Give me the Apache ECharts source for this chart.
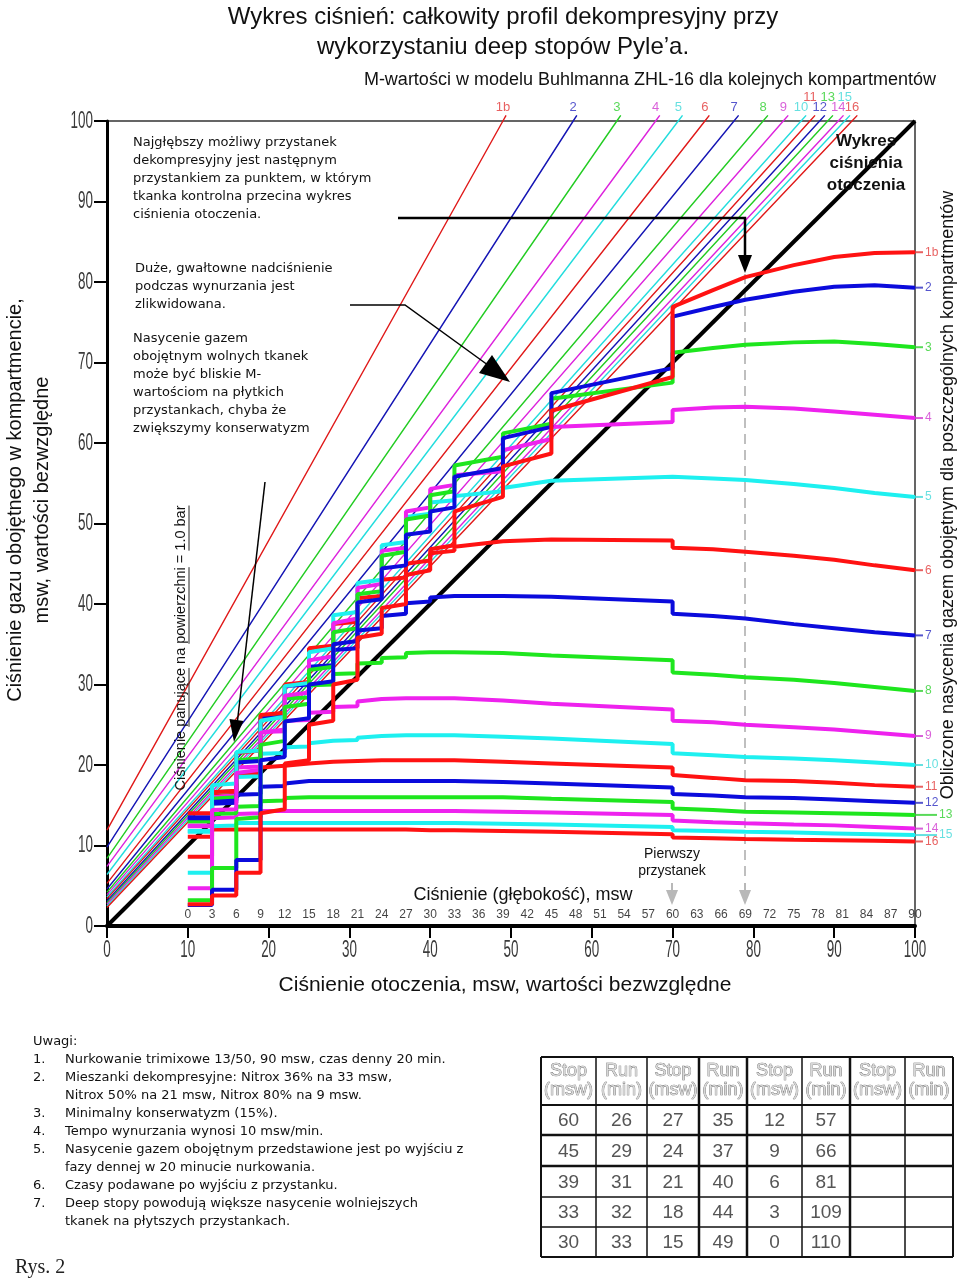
<!DOCTYPE html>
<html><head><meta charset="utf-8">
<script src="https://cdn.jsdelivr.net/npm/echarts@6/dist/echarts.min.js"></script>
<style>html,body{margin:0;padding:0;background:#fff}#c{width:960px;height:1279px}</style>
</head><body><div id="c"></div>
<script>
const SANS = "'Liberation Sans',Arial,sans-serif";
const VERD = "'DejaVu Sans',Verdana,sans-serif";

// ---- data ----
const xTicks = [0,10,20,30,40,50,60,70,80,90,100];
const yTicks = [0,10,20,30,40,50,60,70,80,90,100];
const depthTicks = [0,3,6,9,12,15,18,21,24,27,30,33,36,39,42,45,48,51,54,57,60,63,66,69,72,75,78,81,84,87,90];
const compLabels = ['1b','2','3','4','5','6','7','8','9','10','11','12','13','14','15','16'];
// M-value lines: value at ambient 0, and ambient pressure where the line reaches 100
const mIntercept = [11.9, 9.8, 8.4, 7.4, 6.4, 5.3, 4.6, 4.2, 3.9, 3.6, 3.4, 3.1, 2.9, 2.7, 2.5, 2.3];
const mTopX = [49.0, 57.7, 63.1, 67.9, 70.7, 74.0, 77.6, 81.2, 83.7, 85.9, 87.0, 88.2, 89.2, 90.5, 91.3, 92.2];
// ambient pressure of the path points: bottom phase, then every stop (arrival, departure)
const pathBottomX = [100, 95, 90, 85, 79, 75];
const stopX = [70, 55, 49, 43, 40, 37, 34, 31, 28, 25, 22, 19, 16, 13, 10];
// tissue inert gas pressure along the path (6 bottom values, then arrival/departure at each stop)
const t1b = [83.7,83.6,83.1,82.1,80.6,79.0,
  76.9,68.2, 64.0,58.7, 57.1,53.3, 51.5,47.3, 46.8,44.2, 43.6,40.0, 39.5,36.3, 35.8,30.6,
  30.0,25.5, 25.0,20.6, 20.2,14.5, 14.0,6.6, 6.6,3.8, 3.8,2.7, 2.7,2.7];
const t2 = [79.3,79.6,79.4,78.8,77.8,76.9,
  75.7,69.3, 66.2,62.0, 60.6,56.9, 55.8,52.0, 51.5,49.0, 48.6,44.8, 44.4,40.6, 40.2,35.4,
  35.0,30.4, 30.0,25.8, 25.4,21.0, 20.6,8.2, 8.2,4.5, 4.5,2.6, 2.6,2.6];
const t3 = [71.9,72.3,72.6,72.5,72.2,71.8,
  71.2,67.5, 65.5,62.4, 61.2,58.3, 57.2,54.0, 53.5,51.0, 50.5,46.5, 46.0,41.6, 41.2,37.0,
  36.5,32.2, 31.8,27.6, 27.2,23.0, 22.5,13.5, 13.3,7.2, 7.2,3.2, 3.2,3.2];
const t4 = [63.1,63.5,63.9,64.3,64.5,64.4,
  64.1,62.6, 62.0,60.5, 59.1,56.5, 56.0,54.8, 54.3,52.0, 51.5,47.0, 46.6,42.5, 42.0,38.2,
  37.6,33.5, 33.0,29.0, 28.6,24.4, 24.0,19.4, 19.0,14.5, 14.4,4.7, 4.7,4.7];
const t5 = [53.3,53.8,54.4,54.9,55.4,55.6,
  55.8,55.8, 55.3,55.1, 54.4,54.0, 53.4,52.9, 52.6,51.2, 50.8,47.7, 47.3,43.0, 42.6,39.0,
  38.6,34.5, 34.0,30.2, 29.8,26.0, 25.5,21.8, 21.6,17.7, 17.5,6.6, 6.6,6.6];
const t6 = [44.2,44.8,45.5,46.0,46.5,46.8,
  47.0,47.9, 48.0,48.0, 47.8,47.6, 47.1,46.6, 46.3,45.4, 45.0,43.3, 43.0,41.0, 40.7,37.8,
  37.5,34.8, 34.5,30.3, 30.0,26.5, 26.2,21.8, 21.5,16.8, 16.6,8.6, 8.6,8.6];
const t7 = [36.1,36.5,37.0,37.5,38.2,38.5,
  38.8,40.3, 40.9,41.0, 41.0,41.0, 41.0,40.9, 40.8,40.3, 40.1,38.8, 38.5,37.0, 36.7,34.5,
  34.3,32.4, 32.2,30.0, 29.8,26.0, 25.8,20.5, 20.3,15.6, 15.4,13.4, 13.4,13.4];
const t8 = [29.2,29.7,30.2,30.6,30.9,31.2,
  31.5,33.0, 33.6,33.8, 33.9,34.0, 34.0,34.0, 34.0,33.9, 33.9,33.4, 33.3,32.7, 32.6,31.4,
  31.3,30.0, 29.9,28.4, 28.3,26.2, 26.1,20.8, 20.6,16.0, 15.8,13.0, 13.0,13.0];
const t9 = [23.6,24.0,24.4,24.7,25.0,25.3,
  25.5,26.9, 27.6,27.8, 28.0,28.1, 28.3,28.3, 28.3,28.3, 28.3,28.2, 28.2,28.0, 27.9,27.3,
  27.2,26.6, 26.5,25.6, 25.5,24.2, 24.1,19.8, 19.7,16.2, 16.0,12.5, 12.5,12.5];
const t10 = [20.0,20.3,20.6,20.8,21.0,21.2,
  21.45,22.6, 23.3,23.4, 23.5,23.6, 23.7,23.7, 23.7,23.7, 23.7,23.7, 23.6,23.5, 23.4,23.1,
  23.0,22.8, 22.7,22.3, 22.2,21.5, 21.4,18.6, 18.5,16.8, 16.6,11.8, 11.8,11.8];
const t11 = [17.3,17.5,17.8,18.0,18.1,18.4,
  18.75,19.7, 20.2,20.3, 20.4,20.5, 20.6,20.6, 20.6,20.6, 20.6,20.6, 20.6,20.5, 20.5,20.4,
  20.4,20.3, 20.2,20.0, 19.9,19.8, 19.7,19.0, 18.9,16.6, 16.5,14.0, 14.0,14.0];
const t12 = [15.3,15.5,15.7,15.9,16.0,16.2,
  16.4,17.2, 17.7,17.8, 17.9,17.9, 18.0,18.0, 18.0,18.0, 18.0,18.0, 18.0,18.0, 18.0,18.0,
  18.0,18.0, 18.0,17.8, 17.7,17.4, 17.3,16.4, 16.3,15.3, 15.2,13.5, 13.5,13.5];
const t13 = [13.8,13.9,14.0,14.1,14.2,14.4,
  14.6,15.4, 15.8,15.9, 16.0,16.0, 16.0,16.0, 16.0,16.0, 16.0,16.0, 16.0,16.0, 16.0,16.0,
  16.0,16.0, 16.0,16.0, 15.9,15.6, 15.5,14.9, 14.8,14.0, 13.9,13.0, 13.0,13.0];
const t14 = [12.1,12.3,12.5,12.6,12.75,12.9,
  13.1,13.8, 14.1,14.2, 14.2,14.3, 14.3,14.3, 14.3,14.3, 14.3,14.3, 14.3,14.3, 14.3,14.3,
  14.3,14.3, 14.3,14.3, 14.3,14.3, 14.3,14.0, 13.9,13.5, 13.4,12.4, 12.4,12.4];
const t15 = [11.3,11.4,11.5,11.6,11.7,11.8,
  11.9,12.3, 12.6,12.6, 12.7,12.7, 12.8,12.8, 12.8,12.8, 12.8,12.8, 12.8,12.8, 12.8,12.8,
  12.8,12.8, 12.8,12.8, 12.8,12.8, 12.8,12.8, 12.8,12.5, 12.4,11.7, 11.7,11.7];
const t16 = [10.5,10.6,10.65,10.7,10.8,10.9,
  11.0,11.4, 11.7,11.7, 11.8,11.8, 11.9,11.9, 11.9,12.0, 12.0,12.0, 12.0,12.0, 12.0,12.0,
  12.0,12.0, 12.0,12.0, 12.0,12.0, 12.0,12.0, 12.0,12.0, 12.0,11.1, 11.1,11.1];
const tissues = [t1b,t2,t3,t4,t5,t6,t7,t8,t9,t10,t11,t12,t13,t14,t15,t16];
// table
const tabStop1 = [60,45,39,33,30], tabRun1 = [26,29,31,32,33];
const tabStop2 = [27,24,21,18,15], tabRun2 = [35,37,40,44,49];
const tabStop3 = [12,9,6,3,0],     tabRun3 = [57,66,81,109,110];

// ---- styles ----
const thickCol = ['#ff1212','#0b0bdc','#1ee61e','#ee22ee','#1ef0f0'];
const thinCol  = ['#e01818','#1414b4','#22cc22','#dd22dd','#22dddd'];
const labCol   = ['#e23a3a','#2a2ac0','#30d030','#d03ad0','#40d8d8'];

const pathX = pathBottomX.slice();
stopX.forEach(x => { pathX.push(x, x); });

const series = [];
compLabels.forEach((lab, i) => {
  const y0 = mIntercept[i], xt = mTopX[i];
  const slope = (100 - y0) / xt;
  const ext = 0.7;
  series.push({
    type: 'line', silent: true, symbol: 'none', clip: false, z: 3, animation: false,
    data: [[0, y0], [xt, 100], [xt + ext / slope, 100 + ext]],
    lineStyle: { width: 1.4, color: thinCol[i % 5] }
  });
});
series.push({
  type: 'scatter', symbolSize: 0, silent: true, z: 6, animation: false,
  data: mTopX.map((x, i) => ({
    value: [x, 100],
    label: {
      show: true, formatter: compLabels[i], position: 'top',
      distance: ([10, 12, 14].includes(i) ? 17 : 7),
      color: labCol[i % 5], fontSize: 13, fontFamily: SANS
    }
  }))
});
series.push({
  type: 'line', silent: true, symbol: 'none', z: 4, animation: false,
  data: [[0, 0], [100, 100]],
  lineStyle: { width: 4, color: '#000' }
});
for (let i = tissues.length - 1; i >= 0; i--) {
  series.push({
    type: 'line', silent: true, symbol: 'none', z: 5 + (16 - i) * 0.01, animation: false,
    data: pathX.map((x, j) => [x, tissues[i][Math.min(j, tissues[i].length - 1)]]),
    lineStyle: { width: 4, color: thickCol[i % 5] }
  });
}
// right-hand compartment labels (13 and 15 pushed further right, as in the figure)
series.push({
  type: 'scatter', silent: true, z: 6, animation: false, clip: false,
  symbol: 'rect',
  labelLayout: { hideOverlap: false },
  data: tissues.map((t, i) => {
    const far = (i === 12 || i === 14);
    const len = far ? 22 : 8;
    return {
      value: [100, t[0]],
      symbolSize: [len, 2], symbolOffset: [len / 2, 0],
      itemStyle: { color: labCol[i % 5] },
      label: { show: true, formatter: compLabels[i], position: 'right', distance: 2,
               color: labCol[i % 5], fontSize: 12, fontFamily: SANS }
    };
  })
});
const DEPTH_Y = 1.37;
series.push({
  type: 'scatter', symbolSize: 0, silent: true, z: 6, animation: false,
  data: depthTicks.map(d => ({ value: [d + 10, DEPTH_Y],
    label: { show: true, formatter: String(d), position: 'inside', color: '#111',
             fontSize: 12, fontFamily: SANS } }))
});

const chart = echarts.init(document.getElementById('c'), null, { renderer: 'canvas', width: 960, height: 1279 });
chart.setOption({
  animation: false,
  backgroundColor: '#fff',
  grid: { left: 107, right: 45, top: 121, bottom: 353, show: true, borderColor: '#333', borderWidth: 1.5, containLabel: false, outerBoundsMode: 'none' },
  xAxis: { type: 'value', min: 0, max: 100, interval: 10,
    axisLine: { onZero: false, lineStyle: { color: '#000', width: 4 } },
    axisTick: { show: true, length: 12, lineStyle: { width: 2, color: '#000' } },
    axisLabel: { show: false },
    splitLine: { show: false } },
  yAxis: { type: 'value', min: 0, max: 100, interval: 10,
    axisLine: { show: true, onZero: false, lineStyle: { color: '#000', width: 3 } },
    axisTick: { show: true, length: 13, lineStyle: { width: 2, color: '#000' } },
    axisLabel: { show: false },
    splitLine: { show: false } },
  series: series
});

// ---- annotations ----
const g = [];
function txt(x, y, text, o) {
  const el = { type: 'text', x: x, y: y, z: 50, silent: true,
    style: Object.assign({ text: text, fill: '#111', font: '13px ' + VERD, align: 'left', verticalAlign: 'top' }, (o && o.style) || {}) };
  if (o && o.rotation !== undefined) el.rotation = o.rotation;
  if (o && o.scaleX !== undefined) el.scaleX = o.scaleX;
  g.push(el);
}
// condensed tick labels placed through the axes' scales
const TICK_FONT = '24px ' + SANS;
xTicks.forEach(v => {
  const p = chart.convertToPixel({ gridIndex: 0 }, [v, 0]);
  txt(p[0], p[1] + 24, String(v), { scaleX: 0.56, style: { font: TICK_FONT, align: 'center', verticalAlign: 'middle', fill: '#3a3a3a' } });
});
yTicks.forEach(v => {
  const p = chart.convertToPixel({ gridIndex: 0 }, [0, v]);
  txt(p[0] - 14, p[1], String(v), { scaleX: 0.56, style: { font: TICK_FONT, align: 'right', verticalAlign: 'middle', fill: '#3a3a3a' } });
});
// titles
txt(503, 17, 'Wykres ciśnień: całkowity profil dekompresyjny przy', { style: { font: '24px ' + SANS, align: 'center', verticalAlign: 'middle' } });
txt(503, 47, 'wykorzystaniu deep stopów Pyle’a.', { style: { font: '24px ' + SANS, align: 'center', verticalAlign: 'middle' } });
txt(650, 80, 'M-wartości w modelu Buhlmanna ZHL-16 dla kolejnych kompartmentów', { style: { font: '18px ' + SANS, align: 'center', verticalAlign: 'middle' } });
txt(15, 500, 'Ciśnienie gazu obojętnego w kompartmencie,', { rotation: Math.PI / 2, style: { font: '20px ' + SANS, align: 'center', verticalAlign: 'middle' } });
txt(42, 500, 'msw, wartości bezwzględne', { rotation: Math.PI / 2, style: { font: '20px ' + SANS, align: 'center', verticalAlign: 'middle' } });
txt(948, 495, 'Obliczone nasycenia gazem obojętnym dla poszczególnych kompartmentów', { rotation: Math.PI / 2, style: { font: '18px ' + SANS, align: 'center', verticalAlign: 'middle' } });
txt(505, 985, 'Ciśnienie otoczenia, msw, wartości bezwzględne', { style: { font: '21px ' + SANS, align: 'center', verticalAlign: 'middle' } });
txt(523, 895, 'Ciśnienie (głębokość), msw', { style: { font: '18px ' + SANS, align: 'center', verticalAlign: 'middle' } });
// vertical note with underlined words
const vFont = '14.5px ' + SANS;
const vText = 'Ciśnienie panujące na powierzchni = 1.0 bar';
txt(181, 648, vText, { rotation: Math.PI / 2, style: { font: vFont, align: 'center', verticalAlign: 'middle' } });
(function () {
  const ctx = document.createElement('canvas').getContext('2d');
  ctx.font = vFont;
  const W = ctx.measureText(vText).width;
  const start = 648 + W / 2;
  ['panujące', 'powierzchni', '1.0 bar'].forEach(w => {
    const i = vText.indexOf(w);
    const a = ctx.measureText(vText.slice(0, i)).width;
    const b = ctx.measureText(vText.slice(0, i + w.length)).width;
    g.push({ type: 'line', z: 50, silent: true, shape: { x1: 189, y1: start - a, x2: 189, y2: start - b }, style: { stroke: '#222', lineWidth: 1 } });
  });
})();
txt(133, 134, 'Najgłębszy możliwy przystanek\ndekompresyjny jest następnym\nprzystankiem za punktem, w którym\ntkanka kontrolna przecina wykres\nciśnienia otoczenia.', { style: { lineHeight: 18 } });
txt(135, 260, 'Duże, gwałtowne nadciśnienie\npodczas wynurzania jest\nzlikwidowana.', { style: { lineHeight: 18 } });
txt(133, 330, 'Nasycenie gazem\nobojętnym wolnych tkanek\nmoże być bliskie M-\nwartościom na płytkich\nprzystankach, chyba że\nzwiększymy konserwatyzm', { style: { lineHeight: 18 } });
txt(866, 130, 'Wykres\nciśnienia\notoczenia', { style: { font: 'bold 17px ' + SANS, align: 'center', lineHeight: 22 } });
txt(672, 846, 'Pierwszy\nprzystanek', { style: { font: '14px ' + SANS, align: 'center', lineHeight: 17 } });
// arrows
g.push({ type: 'polyline', z: 40, silent: true, shape: { points: [[398, 218], [745, 218], [745, 258]] }, style: { stroke: '#000', lineWidth: 2.5, fill: null } });
g.push({ type: 'polygon', z: 40, silent: true, shape: { points: [[738, 255], [752, 255], [745, 273]] }, style: { fill: '#000' } });
g.push({ type: 'line', z: 2, silent: true, shape: { x1: 745, y1: 274, x2: 745, y2: 882 }, style: { stroke: '#aaa', lineWidth: 1.5, lineDash: [10, 6] } });
[672, 745].forEach(x => {
  g.push({ type: 'line', z: 40, silent: true, shape: { x1: x, y1: 883, x2: x, y2: 892 }, style: { stroke: '#b8b8b8', lineWidth: 2 } });
  g.push({ type: 'polygon', z: 40, silent: true, shape: { points: [[x - 6, 890], [x + 6, 890], [x, 905]] }, style: { fill: '#b8b8b8' } });
});
g.push({ type: 'polyline', z: 40, silent: true, shape: { points: [[350, 305], [405, 305], [492, 368]] }, style: { stroke: '#000', lineWidth: 1.5, fill: null } });
g.push({ type: 'polygon', z: 40, silent: true, shape: { points: [[510, 382], [479, 373], [492, 355]] }, style: { fill: '#000' } });
g.push({ type: 'line', z: 40, silent: true, shape: { x1: 265, y1: 482, x2: 237, y2: 725 }, style: { stroke: '#000', lineWidth: 1.5 } });
g.push({ type: 'polygon', z: 40, silent: true, shape: { points: [[234, 742], [229.5, 719], [243.5, 721]] }, style: { fill: '#000' } });

// bottom notes
txt(33, 1035, 'Uwagi:');
const noteNums = ['1.', '2.', '', '3.', '4.', '5.', '', '6.', '7.', ''];
const noteLines = ['Nurkowanie trimixowe 13/50, 90 msw, czas denny 20 min.',
  'Mieszanki dekompresyjne: Nitrox 36% na 33 msw,',
  'Nitrox 50% na 21 msw, Nitrox 80% na 9 msw.',
  'Minimalny konserwatyzm (15%).',
  'Tempo wynurzania wynosi 10 msw/min.',
  'Nasycenie gazem obojętnym przedstawione jest po wyjściu z',
  'fazy dennej w 20 minucie nurkowania.',
  'Czasy podawane po wyjściu z przystanku.',
  'Deep stopy powodują większe nasycenie wolniejszych',
  'tkanek na płytszych przystankach.'];
noteLines.forEach((l, k) => {
  if (noteNums[k]) txt(33, 1053 + k * 18, noteNums[k]);
  txt(65, 1053 + k * 18, l);
});
txt(15, 1268, 'Rys. 2', { style: { font: '20px "Liberation Serif",serif', verticalAlign: 'middle', fill: '#222' } });

// table
const colX = [541, 596, 647, 699, 747, 802, 850, 905, 953];
const rowY = [1057, 1105, 1135, 1166, 1197, 1227, 1257];
const colW = [2, 1.5, 1.5, 2.5, 2.5, 1.5, 2.5, 1.5, 2];
const rowW = [2, 2, 2.5, 2.5, 1.5, 1.5, 2];
colX.forEach((x, k) => g.push({ type: 'line', z: 40, silent: true, shape: { x1: x, y1: rowY[0], x2: x, y2: rowY[6] }, style: { stroke: '#111', lineWidth: colW[k] } }));
rowY.forEach((y, k) => g.push({ type: 'line', z: 40, silent: true, shape: { x1: colX[0], y1: y, x2: colX[8], y2: y }, style: { stroke: '#111', lineWidth: rowW[k] } }));
for (let c = 0; c < 8; c++) {
  const cx = (colX[c] + colX[c + 1]) / 2;
  txt(cx, (rowY[0] + rowY[1]) / 2, c % 2 === 0 ? 'Stop\n(msw)' : 'Run\n(min)',
    { style: { font: '18px ' + SANS, align: 'center', verticalAlign: 'middle', lineHeight: 19, fill: '#d8d8d8', stroke: '#666', lineWidth: 0.7 } });
}
const tabCols = [tabStop1, tabRun1, tabStop2, tabRun2, tabStop3, tabRun3];
tabCols.forEach((col, c) => {
  const cx = (colX[c] + colX[c + 1]) / 2;
  col.forEach((v, r) => txt(cx, (rowY[r + 1] + rowY[r + 2]) / 2 + 1, String(v),
    { style: { font: '19px ' + SANS, align: 'center', verticalAlign: 'middle', fill: '#555' } }));
});

chart.setOption({ graphic: g });
</script></body></html>
